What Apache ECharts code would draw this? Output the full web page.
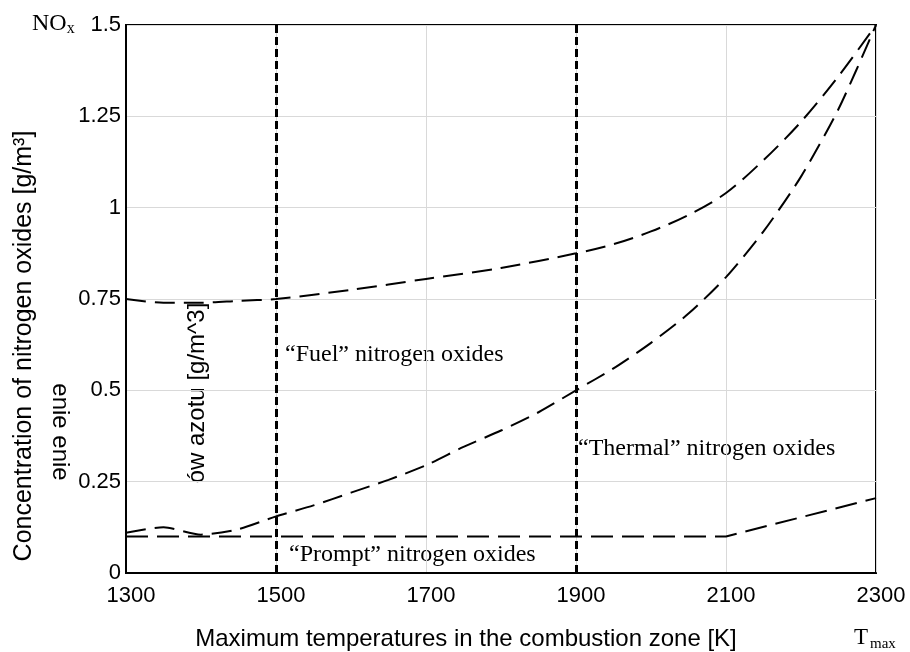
<!DOCTYPE html>
<html><head><meta charset="utf-8">
<script src="https://cdn.jsdelivr.net/npm/echarts@6/dist/echarts.min.js"></script>
<style>html,body{margin:0;padding:0;background:#fff}#c{width:910px;height:652px}</style>
</head><body><div id="c"></div>
<script>
// ---- data ----
const fuelT = [1300,1350,1400,1450,1500,1600,1700,1800,1900,1950,2000,2050,2100,2150,2200,2250,2300];
const fuelV = [0.75,0.74,0.74,0.745,0.75,0.775,0.805,0.835,0.875,0.9,0.935,0.98,1.04,1.13,1.235,1.36,1.5];
const thermalT = [1300,1350,1400,1450,1500,1550,1600,1650,1700,1750,1800,1850,1900,1950,2000,2050,2100,2150,2200,2250,2300];
const thermalV = [0.11,0.125,0.105,0.12,0.155,0.185,0.22,0.255,0.295,0.345,0.39,0.44,0.5,0.56,0.63,0.71,0.81,0.935,1.085,1.27,1.5];
const promptT = [1300,2100,2300];
const promptV = [0.1,0.1,0.205];
const boundaryT = [1500,1900];
const xMin = 1300, xMax = 2300, xStep = 200;
const yMin = 0, yMax = 1.5, yStep = 0.25;
const labelFuel = '\u201cFuel\u201d nitrogen oxides';
const labelThermal = '\u201cThermal\u201d nitrogen oxides';
const labelPrompt = '\u201cPrompt\u201d nitrogen oxides';
const yTitle = 'Concentration of nitrogen oxides [g/m\u00b3]';
const xTitle = 'Maximum temperatures in the combustion zone [K]';

const pair = (xs, ys) => xs.map((x, i) => [x, ys[i]]);
const SANS = '"Liberation Sans", Arial, sans-serif';
const SERIF = '"Liberation Serif", "Times New Roman", serif';

const chart = echarts.init(document.getElementById('c'), null, {renderer: 'canvas'});
const dashCurve = {color: '#000', width: 2, type: [20, 9]};
chart.setOption({
  animation: false,
  backgroundColor: '#fff',
  grid: {left: 126, right: 34, top: 25, bottom: 79, show: true, borderColor: '#000', borderWidth: 2, backgroundColor: 'transparent'},
  xAxis: {
    type: 'value', min: xMin, max: xMax, interval: xStep,
    axisLine: {show: true, lineStyle: {color: '#000', width: 2}},
    axisTick: {show: false},
    splitLine: {show: true, lineStyle: {color: '#d9d9d9', width: 1}},
    axisLabel: {color: '#000', fontSize: 22, fontFamily: SANS, margin: 12, padding: [0, 0, 0, 10], formatter: v => String(v)}
  },
  yAxis: {
    type: 'value', min: yMin, max: yMax, interval: yStep,
    axisLine: {show: true, lineStyle: {color: '#000', width: 2}},
    axisTick: {show: false},
    splitLine: {show: true, lineStyle: {color: '#d9d9d9', width: 1}},
    axisLabel: {color: '#000', fontSize: 22, fontFamily: SANS, margin: 5, formatter: v => String(v)}
  },
  series: [
    {name: 'fuel', type: 'line', data: pair(fuelT, fuelV), smooth: 0.3, showSymbol: false, lineStyle: dashCurve, z: 3},
    {name: 'thermal', type: 'line', data: pair(thermalT, thermalV), smooth: 0.25, showSymbol: false, lineStyle: dashCurve, z: 3},
    {name: 'prompt', type: 'line', data: pair(promptT, promptV), showSymbol: false, lineStyle: {color: '#000', width: 2, type: [22, 9]}, z: 3,
     markLine: {silent: true, symbol: ['none', 'none'], label: {show: false},
       lineStyle: {color: '#000', width: 3, type: [8, 4]},
       data: boundaryT.map(t => ({xAxis: t}))}}
  ],
  graphic: [
    {type: 'text', x: 32, y: 23.6, style: {text: 'NO', fontSize: 24, fontFamily: SERIF, fill: '#000', align: 'left', verticalAlign: 'middle'}},
    {type: 'text', x: 66.7, y: 28.5, style: {text: 'x', fontSize: 16, fontFamily: SERIF, fill: '#000', align: 'left', verticalAlign: 'middle'}},
    {type: 'text', x: 24.3, y: 346, rotation: Math.PI / 2, style: {text: yTitle, fontSize: 25, fontFamily: SANS, fill: '#000', align: 'center', verticalAlign: 'middle'}},
    {type: 'text', x: 466, y: 639.7, style: {text: xTitle, fontSize: 24, fontFamily: SANS, fill: '#000', align: 'center', verticalAlign: 'middle'}},
    {type: 'text', x: 854, y: 638.2, style: {text: 'T', fontSize: 23, fontFamily: SERIF, fill: '#000', align: 'left', verticalAlign: 'middle'}},
    {type: 'text', x: 870, y: 644, style: {text: 'max', fontSize: 15, fontFamily: SERIF, fill: '#000', align: 'left', verticalAlign: 'middle'}},
    {type: 'text', x: 285, y: 355, style: {text: labelFuel, fontSize: 24, fontFamily: SERIF, fill: '#000', align: 'left', verticalAlign: 'middle'}},
    {type: 'text', x: 578, y: 449, style: {text: labelThermal, fontSize: 24, fontFamily: SERIF, fill: '#000', align: 'left', verticalAlign: 'middle'}},
    {type: 'text', x: 289, y: 555, style: {text: labelPrompt, fontSize: 24, fontFamily: SERIF, fill: '#000', align: 'left', verticalAlign: 'middle'}},
    {type: 'text', x: 197, y: 393, rotation: Math.PI / 2, style: {text: '\u00f3w azotu [g/m^3]', fontSize: 24, fontFamily: SANS, fill: '#000', align: 'center', verticalAlign: 'middle'}},
    {type: 'text', x: 60, y: 432, rotation: -Math.PI / 2, style: {text: 'enie enie', fontSize: 24, fontFamily: SANS, fill: '#000', align: 'center', verticalAlign: 'middle'}}
  ]
});
</script></body></html>
